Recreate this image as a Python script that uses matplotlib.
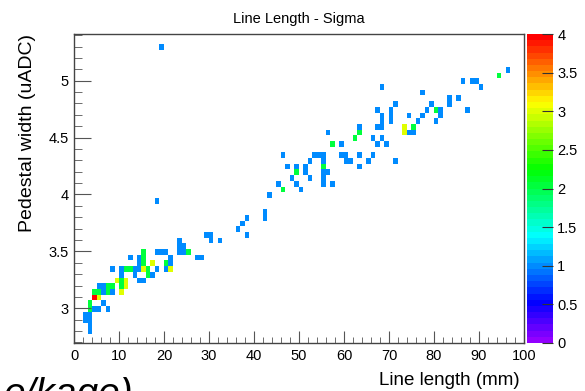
import colorsys
import numpy as np
import matplotlib
matplotlib.use("Agg")
import matplotlib.pyplot as plt
from matplotlib.colors import ListedColormap, Normalize
import matplotlib.ticker as ticker

plt.rcParams['font.family'] = ['Liberation Sans', 'DejaVu Sans']

#%% bins (x = line length mm, y = pedestal width uADC, n = entries)
line_len = [3.5, 2.5, 2.5, 3.5, 3.5, 3.5, 3.5, 3.5,
            4.5, 5.5, 6.5, 7.5, 4.5, 5.5, 4.5, 5.5,
            5.5, 6.5, 6.5, 7.5, 7.5, 8.5, 8.5,
            9.5, 10.5, 10.5, 10.5, 10.5, 10.5, 11.5, 11.5,
            11.5, 12.5, 8.5, 13.5, 13.5, 12.5,
            14.5, 14.5, 14.5, 14.5, 15.5,
            15.5, 15.5, 15.5, 15.5, 16.5, 16.5, 17.5, 17.5,
            18.5, 18.5, 19.5, 20.5, 20.5, 20.5, 21.5, 21.5, 21.5,
            18.5, 23.5, 24.5, 23.5, 24.5, 23.5, 25.5,
            27.5, 28.5, 29.5, 30.5, 30.5, 32.5,
            36.5, 37.5, 38.5, 38.5, 42.5, 42.5, 43.5, 45.5, 46.5,
            19.5,
            46.5, 47.5, 49.5, 49.5, 49.5, 48.5, 50.5,
            51.5, 51.5, 52.5, 52.5, 53.5, 54.5,
            55.5, 55.5, 55.5, 55.5, 56.5, 55.5, 55.5, 57.5,
            56.5, 57.5, 59.5, 59.5, 60.5, 60.5, 61.5,
            62.5, 63.5, 63.5, 63.5, 63.5,
            65.5, 66.5, 66.5, 67.5, 68.5, 69.5,
            67.5, 68.5, 68.5, 68.5, 67.5, 68.5,
            70.5, 70.5, 70.5, 71.5, 71.5,
            73.5, 73.5, 74.5, 75.5, 75.5, 74.5,
            76.5, 77.5, 78.5, 79.5, 80.5, 81.5, 81.5, 80.5,
            77.5, 83.5, 83.5, 85.5, 87.5,
            86.5, 88.5, 89.5, 90.5, 94.5, 96.5]
ped_width = [2.80, 2.90, 2.95, 2.85, 2.90, 2.95, 3.00, 3.05,
             3.00, 3.00, 3.05, 3.00, 3.10, 3.10, 3.15, 3.15,
             3.20, 3.20, 3.15, 3.15, 3.20, 3.20, 3.15,
             3.25, 3.35, 3.30, 3.25, 3.20, 3.15, 3.25, 3.20,
             3.35, 3.35, 3.35, 3.30, 3.35, 3.45,
             3.45, 3.40, 3.35, 3.25, 3.25,
             3.40, 3.45, 3.50, 3.35, 3.35, 3.30, 3.30, 3.40,
             3.35, 3.50, 3.50, 3.50, 3.40, 3.35, 3.45, 3.40, 3.35,
             3.95, 3.50, 3.50, 3.55, 3.55, 3.60, 3.50,
             3.45, 3.45, 3.65, 3.65, 3.60, 3.60,
             3.70, 3.75, 3.80, 3.65, 3.80, 3.85, 4.00, 4.10, 4.05,
             5.30,
             4.35, 4.25, 4.25, 4.20, 4.10, 4.15, 4.05,
             4.25, 4.20, 4.30, 4.15, 4.35, 4.35,
             4.35, 4.30, 4.25, 4.20, 4.20, 4.15, 4.10, 4.10,
             4.55, 4.45, 4.45, 4.35, 4.35, 4.30, 4.30,
             4.50, 4.35, 4.25, 4.55, 4.60,
             4.30, 4.35, 4.50, 4.45, 4.50, 4.45,
             4.60, 4.60, 4.70, 4.65, 4.75, 4.95,
             4.75, 4.70, 4.65, 4.80, 4.30,
             4.60, 4.55, 4.55, 4.55, 4.60, 4.70,
             4.65, 4.70, 4.75, 4.80, 4.75, 4.75, 4.70, 4.65,
             4.90, 4.85, 4.80, 4.85, 4.75,
             5.00, 5.00, 5.00, 4.95, 5.05, 5.10]
n_entries = [1, 1, 1, 1, 1, 1, 2, 2,
             1, 1, 1, 1, 4, 3, 2, 2,
             1, 1, 1, 2, 2, 2, 1,
             3, 1, 1, 2, 2, 3, 3, 3,
             2, 2, 1, 1, 1, 1,
             1, 1, 1, 1, 1,
             2, 2, 2, 3, 2, 2, 1, 3,
             1, 1, 1, 1, 2, 1, 1, 1, 3,
             1, 1, 1, 1, 1, 1, 2,
             1, 1, 1, 1, 1, 1,
             1, 1, 1, 1, 1, 1, 1, 1, 2,
             1,
             1, 1, 1, 2, 1, 1, 1,
             1, 1, 1, 1, 1, 1,
             1, 1, 2, 1, 1, 1, 1, 1,
             1, 2, 1, 1, 1, 1, 1,
             2, 1, 1, 2, 1,
             1, 1, 1, 1, 1, 1,
             1, 1, 1, 1, 1, 1,
             1, 1, 1, 1, 1,
             3, 3, 1, 1, 2, 1,
             1, 1, 1, 1, 2, 1, 1, 1,
             1, 1, 1, 1, 1,
             1, 1, 1, 1, 2, 1]

#%% histogram binning
x_edges = np.arange(0, 101, 1.0)
y_edges = 2.67 + 0.05 * np.arange(56)
h, _, _ = np.histogram2d(line_len, ped_width, bins=[x_edges, y_edges], weights=n_entries)
h = np.ma.masked_equal(h.T, 0)

# old ROOT "pretty" palette: 50 colours, hue 280 -> 0
cols = []
for i in range(50):
    hue = 280 - (i + 1) * (280.0 / 50)
    cols.append(colorsys.hls_to_rgb(hue / 360.0, 0.5, 1.0))
cmap = ListedColormap(cols)
norm = Normalize(0, 4)

fig = plt.figure(figsize=(5.85, 3.91), dpi=100)
ax = fig.add_axes([0.1265, 0.1228, 0.7692, 0.7902])
cax = fig.add_axes([0.9009, 0.1228, 0.0444, 0.7902])

ax.pcolormesh(x_edges, y_edges, h, cmap=cmap, norm=norm)
ax.set_xlim(0, 100)
ax.set_ylim(2.695, 5.41)

ax.xaxis.set_major_locator(ticker.MultipleLocator(10))
ax.xaxis.set_minor_locator(ticker.MultipleLocator(2))
ax.yaxis.set_major_locator(ticker.MultipleLocator(0.5))
ax.yaxis.set_minor_locator(ticker.MultipleLocator(0.1))
ax.yaxis.set_major_formatter(ticker.FuncFormatter(lambda v, p: f'{v:g}'))
ax.tick_params(which='both', direction='in', labelsize=10.5, color='#555555')
ax.tick_params(axis='x', which='major', length=9, pad=4)
ax.tick_params(axis='x', which='minor', length=4.5)
ax.tick_params(axis='y', which='major', length=12, pad=4)
ax.tick_params(axis='y', which='minor', length=6)
for s in ax.spines.values():
    s.set_color('#444444')
    s.set_linewidth(1)

ax.set_title('Line Length - Sigma', fontsize=10.5, pad=8)
ax.set_xlabel('Line length (mm)', fontsize=13.5)
ax.xaxis.set_label_coords(0.991, -0.095, transform=ax.transAxes)
ax.xaxis.label.set_ha('right')
ax.set_ylabel('Pedestal width (uADC)', fontsize=14, loc='top', labelpad=9)

cb = fig.colorbar(plt.cm.ScalarMappable(norm=norm, cmap=cmap), cax=cax)
cb.outline.set_visible(False)
cb.set_ticks(np.arange(0, 4.01, 0.5))
cb.ax.yaxis.set_major_formatter(ticker.FuncFormatter(lambda v, p: f'{v:g}'))
cb.ax.tick_params(direction='in', length=8, labelsize=10.5, color='#333333', pad=3)

# piece of slide text cut by the crop
fig.text(0.006, -0.035, 'e/kage)', fontsize=28, style='italic', ha='left', va='baseline')

fig.savefig('out.png', dpi=100)
